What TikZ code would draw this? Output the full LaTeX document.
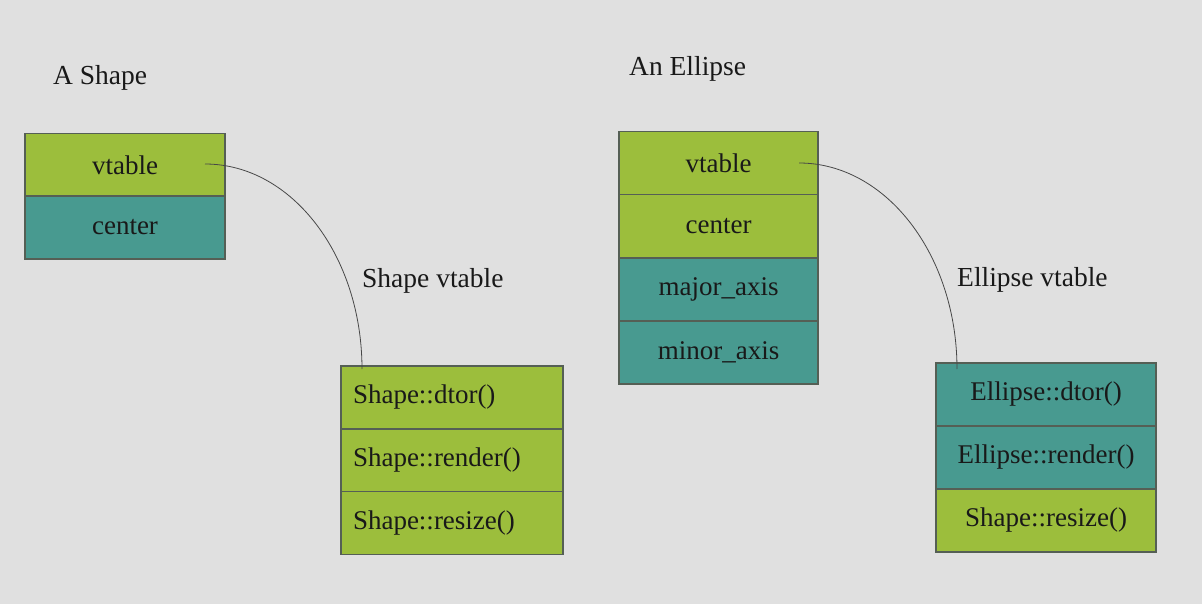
\documentclass[tikz,border=0pt]{standalone}
\usepackage{fontspec}
\setmainfont{Liberation Serif}
\definecolor{bg}{RGB}{224,224,224}
\definecolor{lime}{RGB}{156,190,60}
\definecolor{teal2}{RGB}{72,154,144}
\definecolor{edge}{RGB}{85,95,85}
\definecolor{ink}{RGB}{25,25,25}
\begin{document}
\begin{tikzpicture}[x=1pt,y=-1pt,
  cell/.style={draw=edge,line width=1.3pt,minimum height=63pt,inner sep=0pt,font=\fontsize{27}{31}\selectfont,text=ink},
  limecell/.style={cell,fill=lime},
  tealcell/.style={cell,fill=teal2},
  leftcell/.style={text width=198pt,align=left,inner xsep=12pt},
  title/.style={anchor=west,font=\fontsize{27.5}{31}\selectfont,text=ink,inner sep=0pt},
  link/.style={draw=ink!80,line width=0.8pt}]
\fill[bg] (0,0) rectangle (1202,604);
\useasboundingbox (0,0) rectangle (1202,604);
% A Shape
\node[title] (t1) at (53,78) {A Shape};
\node[limecell,minimum width=200pt] (a1) at (125,165) {vtable};
\node[tealcell,minimum width=200pt] (a2) at (125,227.5) {center};
% Shape vtable
\node[title] (t2) at (362,281) {Shape vtable};
\node[limecell,leftcell] (b1) at (452,397.5) {Shape::dtor()};
\node[limecell,leftcell] (b2) at (452,460.5) {Shape::render()};
\node[limecell,leftcell] (b3) at (452,523) {Shape::resize()};
% An Ellipse
\node[title] (t3) at (629,69) {An Ellipse};
\node[limecell,minimum width=199pt] (c1) at (718.5,163) {vtable};
\node[limecell,minimum width=199pt] (c2) at (718.5,226) {center};
\node[tealcell,minimum width=199pt] (c3) at (718.5,289.5) {major\_axis};
\node[tealcell,minimum width=199pt] (c4) at (718.5,352.5) {minor\_axis};
% Ellipse vtable
\node[title] (t4) at (957,280) {Ellipse vtable};
\node[tealcell,minimum width=220pt] (d1) at (1046,394.5) {Ellipse::dtor()};
\node[tealcell,minimum width=220pt] (d2) at (1046,457.5) {Ellipse::render()};
\node[limecell,minimum width=220pt] (d3) at (1046,520.5) {Shape::resize()};
% connectors
\coordinate (s1) at (205,164);
\coordinate (e1) at (362,369);
\coordinate (s2) at (799,163);
\coordinate (e2) at (957,369);
\draw[link] (s1) .. controls (292,164) and (362,256) .. (e1);
\draw[link] (s2) .. controls (886,163) and (957,255) .. (e2);
\end{tikzpicture}
\end{document}
